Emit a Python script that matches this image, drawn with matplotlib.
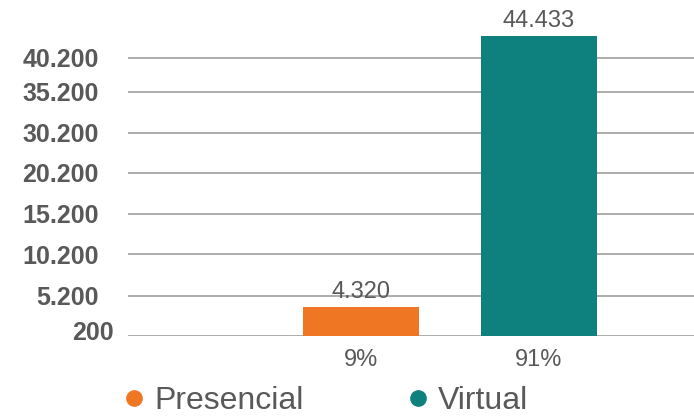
import matplotlib.pyplot as plt
from matplotlib.lines import Line2D
from matplotlib.transforms import ScaledTranslation

plt.rcParams['font.family'] = ['Liberation Sans', 'DejaVu Sans']

# Data
categories = ["Presencial", "Virtual"]
values = [4320, 44433]
value_labels = ["4.320", "44.433"]
pct_labels = ["9%", "91%"]
colors = ["#EF7622", "#0E807D"]

# y tick labels as printed on the chart (decorative, not to scale)
ytick_labels = ["200", "5.200", "10.200", "15.200", "20.200", "30.200", "35.200", "40.200"]
ytick_pos = [0, 5970, 12120, 18090, 24160, 30130, 36200, 41230]

text_color = "#595959"
grid_color = "#969696"

fig = plt.figure(figsize=(6.94, 4.18), dpi=100)
ax = fig.add_axes([128 / 694, 82 / 418, 566 / 694, 326 / 418])

x = [1, 2]
bars = ax.bar(x, values, width=0.652, color=colors, zorder=3)

for xi, v, lab in zip(x, values, value_labels):
    ax.annotate(lab, (xi, v), xytext=(0, 6.5), textcoords="offset points",
                ha="center", va="baseline", fontsize=17, color=text_color)

ax.set_xlim(-0.308, 2.871)
ax.set_ylim(0, 48280)

ax.set_yticks(ytick_pos)
ax.set_yticklabels(ytick_labels, fontsize=18, fontweight="bold", color=text_color)
ax.set_xticks(x)
ax.set_xticklabels(pct_labels, fontsize=17, color=text_color)

ax.tick_params(axis="y", length=0, pad=21)
ax.tick_params(axis="x", length=0, pad=9)
ax.yaxis.grid(True, color=grid_color, linewidth=1.1, zorder=0)
ax.set_axisbelow(True)
for s in ax.spines.values():
    s.set_visible(False)

# the bottom label sits a bit further right and higher in the original
lbl = ax.get_yticklabels()[0]
lbl.set_transform(lbl.get_transform() + ScaledTranslation(0.15, 0.05, fig.dpi_scale_trans))

handles = [Line2D([], [], marker="o", linestyle="none", color=c, markersize=11)
           for c in colors]
fig.legend(handles, categories, loc="center left", ncol=2,
           bbox_to_anchor=(126 / 694, 1 - 401 / 418), frameon=False,
           fontsize=23, labelcolor=text_color, handlelength=0.5,
           handletextpad=0.4, columnspacing=3.3, borderpad=0, borderaxespad=0)

fig.savefig("out.png", dpi=100)
